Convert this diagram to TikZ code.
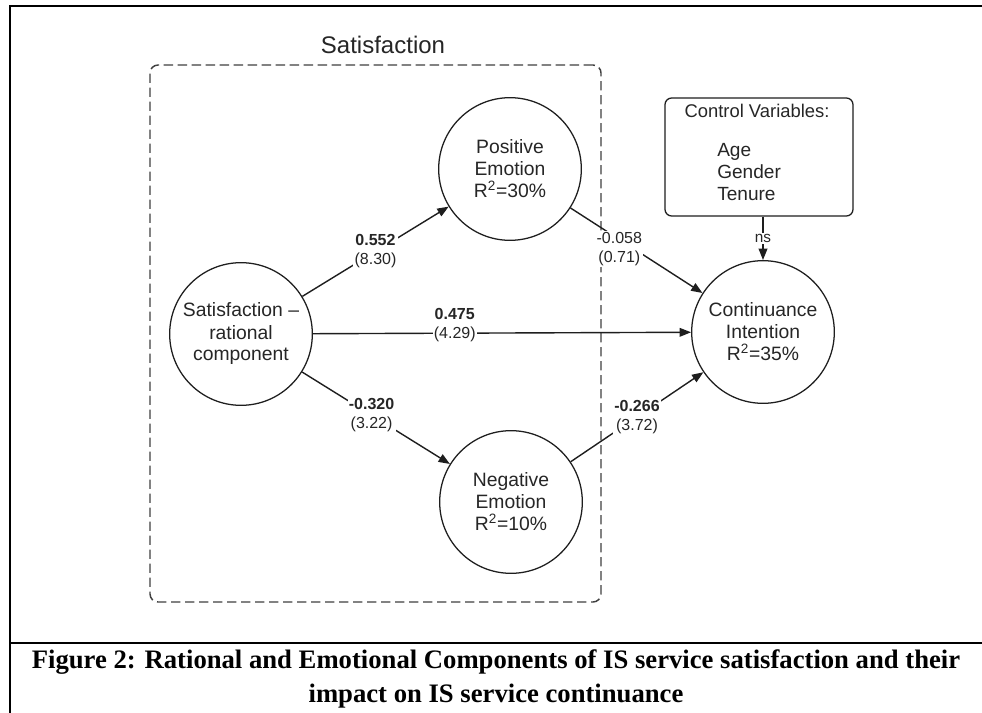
\documentclass[tikz,border=0pt]{standalone}
\usepackage{fontspec}
\setmainfont{Liberation Sans}
\newfontfamily\capfont{Liberation Serif}
\usetikzlibrary{arrows.meta}
\definecolor{ink}{HTML}{262626}
\definecolor{linec}{HTML}{1E1E1E}
\begin{document}
\begin{tikzpicture}[x=0.75pt,y=-0.75pt,
  construct/.style={circle,draw=linec,line width=0.95pt,minimum size=107pt,inner sep=0pt,align=center,text=ink,font=\fontsize{14.5}{16.5}\selectfont},
  conn/.style={draw=linec,line width=1.05pt,-{Triangle[length=8.5pt,width=6.5pt]}},
  coef/.style={fill=white,inner sep=1pt,align=center,text=ink,font=\fontsize{12}{14.25}\selectfont},
  ctrltext/.style={text=ink,inner sep=0pt,font=\fontsize{13.8}{16.5}\selectfont},
  capt/.style={inner sep=0pt,font=\capfont\bfseries\fontsize{20}{24}\selectfont},
  grpbox/.style={draw=black!75,line width=1.1pt,dash pattern=on 7pt off 3.5pt,rounded corners=6pt,inner sep=0pt}
]
\useasboundingbox (0,0) rectangle (982,713);
\fill[white] (0,0) rectangle (982,713);
% frame
\draw[line width=1.5pt] (10,713) -- (10,6) -- (982,6);
\draw[line width=1.5pt] (10,643) -- (982,643);
% caption
\node[capt,anchor=base] (cap1) at (496,668) {Figure 2: Rational and Emotional Components of IS service satisfaction and their};
\node[capt,anchor=base] (cap2) at (496,702) {impact on IS service continuance};
% satisfaction group
\node[grpbox,minimum width=338.25pt,minimum height=402.75pt] (grp) at (375.5,333.5) {};
\node[text=ink,font=\fontsize{18}{20}\selectfont] (grplabel) at (383,45) {Satisfaction};
% constructs
\node[construct] (sr) at (241,334) {Satisfaction \textendash\\rational\\component};
\node[construct] (pe) at (510,169) {Positive\\Emotion\\R\textsuperscript{2}=30\%};
\node[construct] (ne) at (511,502) {Negative\\Emotion\\R\textsuperscript{2}=10\%};
\node[construct] (ci) at (763,332) {Continuance\\Intention\\R\textsuperscript{2}=35\%};
% control variables
\node[draw=linec,line width=0.95pt,rounded corners=5pt,minimum width=141pt,minimum height=88.5pt,inner sep=0pt] (ctrl) at (759,157) {};
\node[ctrltext] (ctrltitle) at (757,111) {Control Variables:};
\node[ctrltext,anchor=base west,font=\fontsize{14.3}{16.5}\selectfont] (age) at (717,157) {Age};
\node[ctrltext,anchor=base west,font=\fontsize{14.3}{16.5}\selectfont] (gender) at (717,179) {Gender};
\node[ctrltext,anchor=base west,font=\fontsize{14.3}{16.5}\selectfont] (tenure) at (717,201) {Tenure};
% paths
\draw[conn] (sr) -- node[coef,pos=0.5]{\textbf{0.552}\\(8.30)} (pe);
\draw[conn] (sr) -- node[coef,pos=0.375,yshift=6pt]{\textbf{0.475}\\(4.29)} (ci);
\draw[conn] (sr) -- node[coef,pos=0.47]{\textbf{-0.320}\\(3.22)} (ne);
\draw[conn] (pe) -- node[coef,pos=0.37,yshift=-7pt]{-0.058\\(0.71)} (ci);
\draw[conn] (ne) -- node[coef,pos=0.5]{\textbf{-0.266}\\(3.72)} (ci);
\draw[conn] (ctrl.south -| ci.north) -- node[coef,font=\fontsize{11.5}{12}\selectfont]{ns} (ci.north);
\end{tikzpicture}
\end{document}
